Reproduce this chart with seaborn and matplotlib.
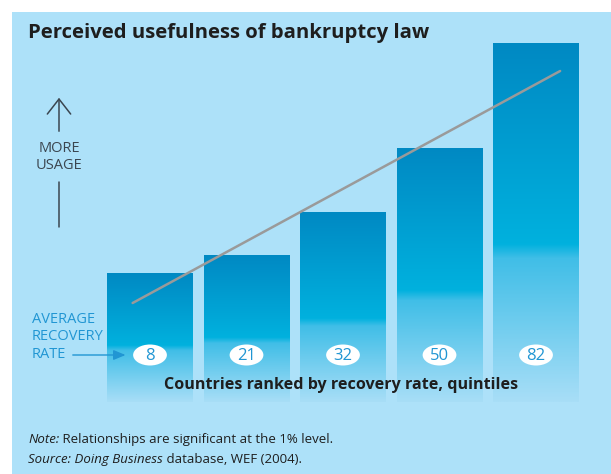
import matplotlib
matplotlib.use("Agg")
import matplotlib.pyplot as plt
import seaborn as sns
import pandas as pd
import numpy as np
from matplotlib.patches import Ellipse
from matplotlib.colors import LinearSegmentedColormap

# data (bar height = perceived usefulness, arbitrary units)
quintiles = ["Q1", "Q2", "Q3", "Q4", "Q5"]
usefulness = [129, 147, 190, 254, 359]
recovery_rate = [8, 21, 32, 50, 82]
trend_x = [-0.18, 4.25]
trend_y = [99, 331]

BG = "#ade1f9"
DARK = "#1e1e1e"
BLUE_TXT = "#2196d3"

sns.set_theme(style="white")
plt.rcParams['font.family'] = ['Open Sans', 'DejaVu Sans']

fig = plt.figure(figsize=(6.11, 4.74), dpi=100)
fig.patch.set_facecolor("white")
ax = fig.add_axes([12 / 611, 0, 599 / 611, 462 / 474])
ax.set_facecolor(BG)

df = pd.DataFrame({"quintile": quintiles, "usefulness": usefulness})
sns.barplot(data=df, x="quintile", y="usefulness", width=0.89,
            color="#0088c4", ax=ax, zorder=2)

# vertical gradient on each bar
cmap = LinearSegmentedColormap.from_list(
    "bar", [(0, "#0089c3"), (0.56, "#00b1de"), (0.6, "#40bee7"), (1, "#a8def7")])
grad = np.linspace(0, 1, 256).reshape(-1, 1)
for p in ax.patches:
    x0, w, h = p.get_x(), p.get_width(), p.get_height()
    ax.imshow(grad, cmap=cmap, extent=[x0, x0 + w, 0, h], origin="upper",
              aspect="auto", interpolation="bilinear", zorder=2.5)
    p.set_alpha(0)

# trend line
ax.plot(trend_x, trend_y, color="#9a9a9a", lw=1.8, zorder=4)

# recovery rate labels
for i, r in enumerate(recovery_rate):
    ax.add_patch(Ellipse((i, 47), 0.35, 21, fc="white", ec="none", zorder=5))
    ax.text(i, 46, str(r), ha="center", va="center", color=BLUE_TXT,
            fontsize=12, zorder=6)

ax.text(1.98, 17, "Countries ranked by recovery rate, quintiles", ha="center",
        va="center", fontsize=11.6, fontweight="bold", color=DARK, zorder=6)

# "more usage" arrow
ax.annotate("", xy=(-0.943, 307), xytext=(-0.943, 268),
            arrowprops=dict(arrowstyle="->,head_length=0.9,head_width=0.7",
                            color="#3b4650", lw=1.1))
ax.plot([-0.943, -0.943], [220, 175], color="#3b4650", lw=1.1)
ax.text(-0.943, 245, "MORE\nUSAGE", ha="center", va="center", fontsize=10.5,
        color="#3b4650", linespacing=1.1)

# average recovery rate pointer
ax.text(-1.223, 65, "AVERAGE\nRECOVERY\nRATE", ha="left", va="center",
        fontsize=10.5, color=BLUE_TXT, linespacing=1.25)
ax.annotate("", xy=(-0.225, 47), xytext=(-0.829, 47),
            arrowprops=dict(arrowstyle="-|>,head_length=0.6,head_width=0.25",
                            color=BLUE_TXT, lw=1))

ax.set_xlim(-1.430, 4.777)
ax.set_ylim(-72, 390)
ax.set_xticks([])
ax.set_yticks([])
ax.set_xlabel("")
ax.set_ylabel("")
for s in ax.spines.values():
    s.set_visible(False)

# title and notes
fig.text(28 / 611, 1 - 33 / 474, "Perceived usefulness of bankruptcy law",
         fontsize=14.6, fontweight="bold", color=DARK, va="center")

t1 = fig.text(28 / 611, 1 - 443 / 474, "Note:", fontsize=9.5, style="italic",
              color=DARK, va="baseline")
ax.annotate(" Relationships are significant at the 1% level.", xy=(1, 0),
            xycoords=t1, va="bottom", fontsize=9.5, color=DARK,
            annotation_clip=False)
t2 = fig.text(28 / 611, 1 - 463 / 474, "Source: Doing Business", fontsize=9.5,
              style="italic", color=DARK, va="baseline")
ax.annotate(" database, WEF (2004).", xy=(1, 0), xycoords=t2, va="bottom",
            fontsize=9.5, color=DARK, annotation_clip=False)

fig.savefig("out.png", dpi=100, facecolor=fig.get_facecolor())
